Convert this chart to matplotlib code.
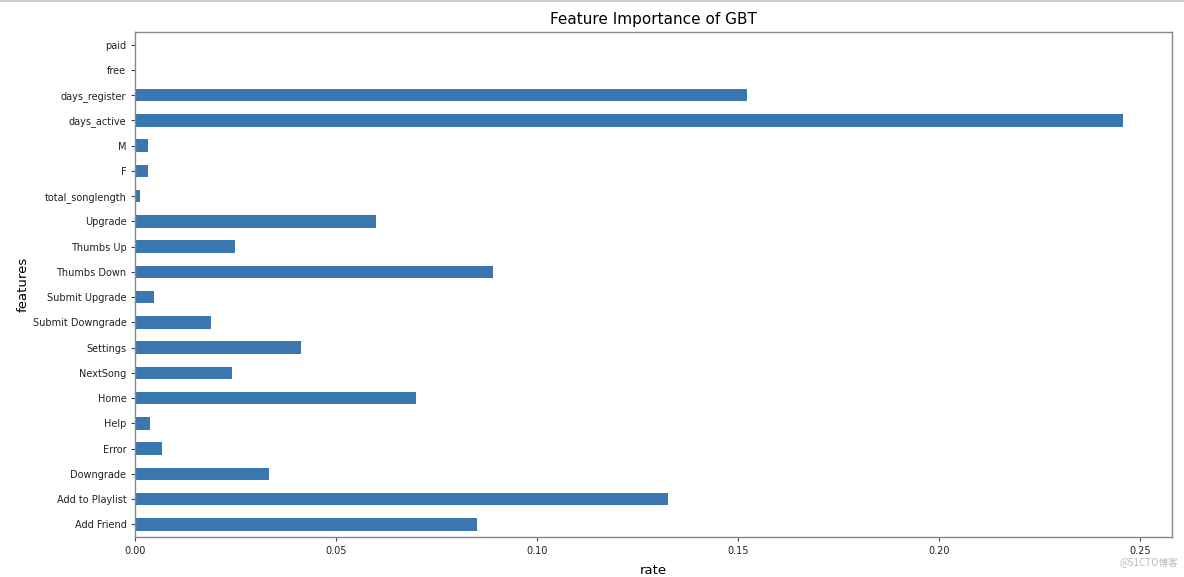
import matplotlib.pyplot as plt
from matplotlib.lines import Line2D

features = ['Add Friend', 'Add to Playlist', 'Downgrade', 'Error', 'Help', 'Home',
            'NextSong', 'Settings', 'Submit Downgrade', 'Submit Upgrade',
            'Thumbs Down', 'Thumbs Up', 'Upgrade', 'total_songlength', 'F', 'M',
            'days_active', 'days_register', 'free', 'paid']
rates = [0.0850, 0.1325, 0.0332, 0.0067, 0.0037, 0.0698,
         0.0240, 0.0411, 0.0189, 0.0046,
         0.0890, 0.0249, 0.0598, 0.0011, 0.0032, 0.0032,
         0.2457, 0.1523, 0.0, 0.0]
xticks = [0.0, 0.05, 0.10, 0.15, 0.20, 0.25]

fig = plt.figure(figsize=(11.84, 5.77), dpi=100)
ax = fig.add_axes([0.1144, 0.0693, 0.8755, 0.8752])

pos = range(len(features))
ax.barh(pos, rates, height=0.5, color='#3a76af')
ax.set_yticks(list(pos))
ax.set_yticklabels(features, fontsize=7, color='#222222')
ax.set_ylim(-0.5, len(features) - 0.5)
ax.set_xlim(0, max(rates) * 1.05)
ax.set_xticks(xticks)
ax.set_xticklabels(['%.2f' % t for t in xticks], fontsize=7, color='#222222')
ax.tick_params(length=3, width=0.8, color='#444444')
for s in ax.spines.values():
    s.set_color('#888888')
    s.set_linewidth(1.0)

ax.set_title('Feature Importance of GBT', fontsize=11, pad=6)
ax.set_xlabel('rate', fontsize=9.5, labelpad=6)
ax.set_ylabel('features', fontsize=9.5, labelpad=2)

# screenshot border line and watermark
fig.add_artist(Line2D([0, 1], [0.998, 0.998], color='#cccccc', lw=1.5))
fig.text(0.995, 0.015, '@51CTO博客', ha='right', va='bottom', fontsize=7,
         color='#bbbbbb', family=['Noto Sans CJK SC', 'DejaVu Sans'])

fig.savefig('out.png', dpi=100)
